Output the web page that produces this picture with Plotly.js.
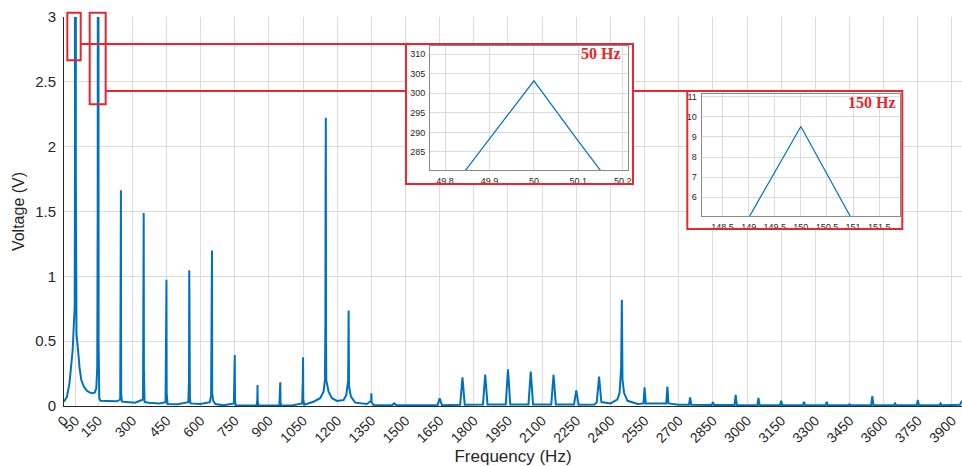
<!DOCTYPE html>
<html>
<head>
<meta charset="utf-8">
<script src="https://cdn.plot.ly/plotly-3.0.1.min.js"></script>
<style>html,body{margin:0;padding:0;background:#fff;}#chart{width:962px;height:466px;}</style>
</head>
<body>
<div id="chart"></div>
<script>
// Spectrum points (Hz, V)
const freqHz = [0,13,24,31,38,43,47,48,49.8,49.9,50,50.1,50.2,52,53,55,62,68,76,87,101,120,135,142,146,148,149,150,151,152,155,160,196,233,
 247,249,250,251,254,262,313,
 347,349,350,351,354,372,420,446,449,450,451,455,500,
 546,549,550,551,553,556,600,640,646,649,650,651,655,665,700,
 746,749,750,751,754,800,846,849,850,851,854,900,946,949,950,951,954,1000,
 1046,1049,1050,1051,1055,1096,1125,1140,1146,1148,1149,1150,1151,1152,1162,1177,1199,1228,1240,1248,1250,1252,1260,1279,1330,
 1349,1350,1351,1360,1440,1450,1460,1640,1650,1660,1740,1750,1760,1840,1850,1860,1940,1950,1960,2040,2050,2060,2140,2150,2160,
 2240,2250,2260,2330,2340,2350,2360,2400,2430,2440,2447,2450,2453,2460,2475,2520,2545,2550,2555,2645,2650,2655,2700,
 2745,2750,2755,2845,2850,2855,2945,2950,2955,3045,3050,3055,3145,3150,3155,3245,3250,3255,3345,3350,3355,3445,3450,3455,
 3545,3550,3555,3645,3650,3655,3745,3750,3755,3845,3850,3855,3935,3944];
const voltV = [0.033,0.072,0.175,0.30,0.43,0.62,0.76,1.67,273.5,288.2,303.2,287.8,273.0,1.77,0.83,0.55,0.43,0.30,0.20,0.15,0.116,0.098,0.103,0.137,0.30,1.52,4.98,9.52,4.80,0.50,0.06,0.041,0.041,0.036,
 0.05,0.806,1.664,0.10,0.035,0.033,0.026,
 0.05,1.175,1.489,0.28,0.03,0.025,0.02,0.03,0.5,0.974,0.10,0.015,0.013,
 0.03,0.20,1.046,0.837,0.05,0.02,0.015,0.03,0.08,0.60,1.20,0.10,0.04,0.015,0.005,
 0.02,0.31,0.394,0.05,0.005,0.004,0.005,0.05,0.162,0.03,0.004,0.004,0.005,0.15,0.183,0.03,0.004,0.004,
 0.02,0.20,0.376,0.05,0.01,0.033,0.06,0.11,0.20,0.64,1.80,2.223,0.50,0.20,0.11,0.06,0.039,0.046,0.085,0.20,0.737,0.15,0.072,0.026,0.015,
 0.04,0.098,0.03,0.008,0.005,0.02,0.005,0.005,0.059,0.005,0.01,0.222,0.01,0.012,0.242,0.012,0.012,0.283,0.012,0.012,0.265,0.012,0.012,0.24,0.012,
 0.012,0.121,0.01,0.012,0.03,0.227,0.03,0.02,0.05,0.10,0.30,0.819,0.20,0.10,0.04,0.015,0.02,0.144,0.02,0.02,0.149,0.02,0.01,
 0.01,0.067,0.01,0.008,0.029,0.008,0.008,0.085,0.008,0.005,0.062,0.005,0.005,0.041,0.005,0.005,0.033,0.005,0.005,0.033,0.005,0.005,0.013,0.005,
 0.005,0.077,0.005,0.005,0.02,0.005,0.005,0.046,0.005,0.005,0.02,0.005,0.01,0.04];

const xTickVals = [0,50,150,300,450,600,750,900,1050,1200,1350,1500,1650,1800,1950,2100,2250,2400,2550,2700,2850,3000,3150,3300,3450,3600,3750,3900];
const xTickText = xTickVals.map(String);
const yTickVals = [0,0.5,1,1.5,2,2.5,3];
const yTickText = ['0','0.5','1','1.5','2','2.5','3'];

const inset1XTicks = [49.8,49.9,50,50.1,50.2];
const inset1YTicks = [285,290,295,300,305,310];
const inset2XTicks = [148.5,149,149.5,150,150.5,151,151.5];
const inset2YTicks = [6,7,8,9,10,11];

const blue = '#0072BD';
const red = '#e8262d';
const txt = '#262626';
const grid = '#dcdcdc';
const FONT = 'Liberation Sans, Arial, sans-serif';

const traces = [
  {x: freqHz, y: voltV, type: 'scatter', mode: 'lines', line: {color: blue, width: 2}, xaxis: 'x', yaxis: 'y', cliponaxis: true},
  {x: [], y: [], type: 'scatter', mode: 'lines', xaxis: 'x2', yaxis: 'y2'},
  {x: [], y: [], type: 'scatter', mode: 'lines', xaxis: 'x3', yaxis: 'y3'},
  {x: freqHz, y: voltV, type: 'scatter', mode: 'lines', line: {color: blue, width: 1.2}, xaxis: 'x4', yaxis: 'y4'},
  {x: freqHz, y: voltV, type: 'scatter', mode: 'lines', line: {color: blue, width: 1.2}, xaxis: 'x5', yaxis: 'y5'}
];

const hidden = (dom, anchor) => ({domain: dom, anchor: anchor, visible: false, showgrid: false, zeroline: false, range: [0, 1], fixedrange: true});
const insetAx = (dom, anchor, range, vals) => ({
  domain: dom, anchor: anchor, range: range, tickvals: vals, ticktext: vals.map(String),
  showgrid: true, gridcolor: grid, gridwidth: 1, zeroline: false,
  showline: true, mirror: true, linecolor: '#8a8a8a', linewidth: 1, ticks: '',
  tickfont: {family: FONT, size: 9, color: txt}, ticklabelstandoff: 2
});

const B1 = {x0: 0.3808, x1: 0.6336, y0: 0.5707, y1: 0.9306};
const B2 = {x0: 0.6941, x1: 0.9335, y0: 0.4550, y1: 0.8098};

const layout = {
  width: 962, height: 466,
  margin: {l: 64, r: 0, t: 17, b: 60},
  paper_bgcolor: '#fff', plot_bgcolor: '#fff',
  showlegend: false, hovermode: false,
  font: {family: FONT, color: txt},
  xaxis: {
    domain: [0, 1], range: [0, 3944], tickvals: xTickVals, ticktext: xTickText, tickangle: -45,
    tickfont: {family: FONT, size: 14, color: txt}, showgrid: true, gridcolor: grid, zeroline: false,
    showline: true, linecolor: txt, linewidth: 1, ticks: '',
    title: {text: 'Frequency (Hz)', font: {family: FONT, size: 17, color: txt}, standoff: 8}
  },
  yaxis: {
    domain: [0, 1], range: [0, 3], tickvals: yTickVals, ticktext: yTickText,
    tickfont: {family: FONT, size: 15, color: txt}, showgrid: true, gridcolor: grid, zeroline: false,
    showline: true, linecolor: txt, linewidth: 1, ticks: '', ticklabelstandoff: 4,
    title: {text: 'Voltage (V)', font: {family: FONT, size: 16, color: txt}, standoff: 6}
  },
  xaxis2: hidden([B1.x0, B1.x1], 'y2'), yaxis2: hidden([B1.y0, B1.y1], 'x2'),
  xaxis3: hidden([B2.x0, B2.x1], 'y3'), yaxis3: hidden([B2.y0, B2.y1], 'x3'),
  xaxis4: insetAx([0.4076, 0.6281], 'y4', [49.766, 50.212], inset1XTicks),
  yaxis4: insetAx([0.6067, 0.9254], 'x4', [280.4, 312.1], inset1YTicks),
  xaxis5: insetAx([0.7101, 0.9310], 'y5', [148.1, 151.9], inset2XTicks),
  yaxis5: insetAx([0.4884, 0.8013], 'x5', [5.07, 11.12], inset2YTicks),
  shapes: [
    {type: 'rect', xref: 'paper', yref: 'paper', x0: 0.0037, x1: 0.0186, y0: 0.8887, y1: 1.0111, line: {color: red, width: 2}, layer: 'above'},
    {type: 'rect', xref: 'paper', yref: 'paper', x0: 0.0286, x1: 0.0464, y0: 0.7756, y1: 1.0111, line: {color: red, width: 2}, layer: 'above'},
    {type: 'line', xref: 'paper', yref: 'paper', x0: 0.0186, x1: B1.x0, y0: 0.9306, y1: 0.9306, line: {color: red, width: 2}, layer: 'above'},
    {type: 'line', xref: 'paper', yref: 'paper', x0: 0.0464, x1: B1.x0, y0: 0.8098, y1: 0.8098, line: {color: red, width: 2}, layer: 'above'},
    {type: 'line', xref: 'paper', yref: 'paper', x0: B1.x1, x1: B2.x0, y0: 0.8098, y1: 0.8098, line: {color: red, width: 2}, layer: 'above'},
    {type: 'rect', xref: 'paper', yref: 'paper', x0: B1.x0, x1: B1.x1, y0: B1.y0, y1: B1.y1, line: {color: red, width: 2}, layer: 'above'},
    {type: 'rect', xref: 'paper', yref: 'paper', x0: B2.x0, x1: B2.x1, y0: B2.y0, y1: B2.y1, line: {color: red, width: 2}, layer: 'above'}
  ],
  annotations: [
    {text: '<b>50 Hz</b>', xref: 'paper', yref: 'paper', x: 0.6225, y: 0.9049, xanchor: 'right', yanchor: 'middle', showarrow: false,
     font: {family: 'Liberation Serif, Times New Roman, serif', size: 16, color: red}},
    {text: '<b>150 Hz</b>', xref: 'paper', yref: 'paper', x: 0.9287, y: 0.7802, xanchor: 'right', yanchor: 'middle', showarrow: false,
     font: {family: 'Liberation Serif, Times New Roman, serif', size: 16, color: red}}
  ]
};

Plotly.newPlot('chart', traces, layout, {staticPlot: true, displayModeBar: false});
</script>
</body>
</html>
